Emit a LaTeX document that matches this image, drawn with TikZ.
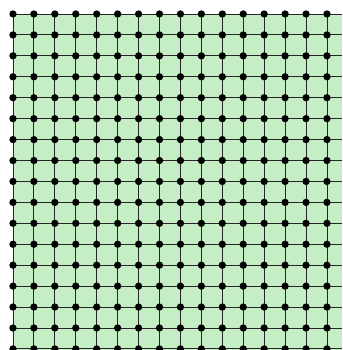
\documentclass[tikz,border=0pt]{standalone}
\usepackage{xcolor}
\usepackage{tikz}
\usetikzlibrary{positioning}
\definecolor{latticegreen}{RGB}{198,238,196}

\begin{document}
\begin{tikzpicture}[
    site/.style={
        circle,
        fill=black,
        inner sep=0pt,
        minimum size=1.75mm
    },
    bond/.style={black!85, line width=0.6pt}
]

\useasboundingbox (0,0) rectangle (8.17,8.36);

% filled region
\fill[latticegreen] (0.31,0) rectangle (8.17,8.026);

% lattice sites
\foreach \i in {0,...,15}{
    \foreach \j in {0,...,16}{
        \coordinate (c-\i-\j) at ({0.31+0.5*\i},{8.026-0.5*\j});
    }
}

% bonds, running off the right and bottom edges
\foreach \j in {0,...,16}{
    \coordinate (east-\j) at (8.17,{8.026-0.5*\j});
    \draw[bond] (c-0-\j) -- (east-\j);
}
\foreach \i in {0,...,15}{
    \coordinate (south-\i) at ({0.31+0.5*\i},0);
    \draw[bond] (c-\i-0) -- (south-\i);
}

\foreach \i in {0,...,15}{
    \foreach \j in {0,...,16}{
        \node[site] (v-\i-\j) at (c-\i-\j) {};
    }
}

\end{tikzpicture}
\end{document}
